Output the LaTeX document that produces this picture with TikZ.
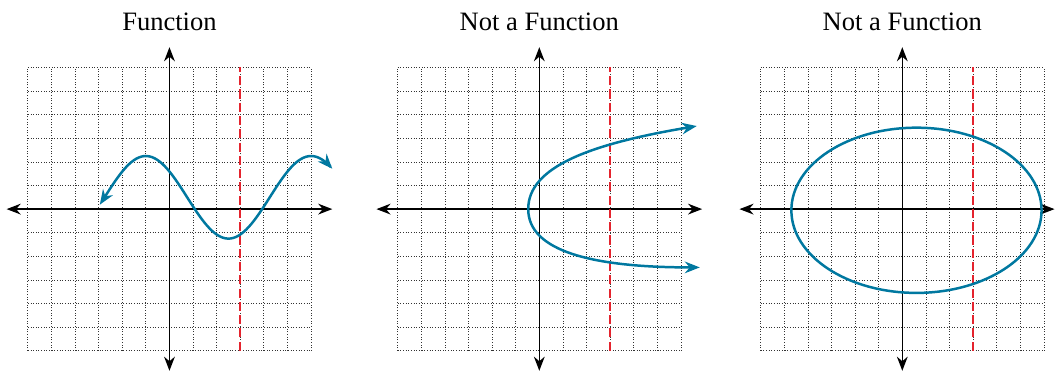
\documentclass[tikz,border=0pt]{standalone}
\usepackage{fontspec}
\setmainfont{Liberation Serif}
\usetikzlibrary{arrows.meta}
\definecolor{curveblue}{RGB}{0,120,160}
\definecolor{testred}{RGB}{228,35,45}
\tikzset{
    gridline/.style={
        black!80,
        line width=0.45pt,
        step=0.5cm,
        dash pattern=on 0.5pt off 1.1pt
    },
    axis/.style={
        line width=0.9pt,
        {Stealth[length=8.5pt,width=6.5pt]}-{Stealth[length=8.5pt,width=6.5pt]}
    },
    curve/.style={
        curveblue,
        line width=1.5pt
    },
    curvetips/.style={
        {Stealth[length=9pt,width=7pt]}-{Stealth[length=9pt,width=7pt]}
    },
    testline/.style={
        testred,
        line width=1.4pt,
        dash pattern=on 5.5pt off 2.5pt
    },
    title/.style={
        anchor=base,
        font=\fontsize{16}{19}\selectfont
    }
}

\begin{document}
\begin{tikzpicture}[x=0.5cm, y=0.5cm]
    \useasboundingbox (-7.18,-6.85) rectangle (37.52,8.86);

    % grid, axes and vertical line for each panel
    \foreach \ox/\ttl/\nm/\xr in {0/Function/fn/6.9, 15.67/Not a Function/pa/6.9, 31.05/Not a Function/el/6.45} {
        \begin{scope}[xshift=\ox*0.5cm]
            \draw[gridline] (-6,-6) grid (6,6);
            \draw[axis] (-6.9,0) -- (\xr,0);
            \draw[axis] (0,-6.85) -- (0,6.86);
            \draw[testline] (3,-6) -- (3,6);
            \node[title] (title-\nm) at (0,7.58) {\ttl};
        \end{scope}
    }

    % sine wave
    \draw[curve, curvetips] plot[domain=-2.95:6.9, samples=90, smooth]
        (\x, {0.5+1.75*cos(deg(2*pi*(\x+1)/7))});

    % sideways parabola
    \begin{scope}[xshift=15.67*0.5cm]
        \draw[curve, curvetips] (6.67,3.52) .. controls (2.17,2.76) and (-0.47,1.8) .. (-0.47,0)
            .. controls (-0.47,-1.8) and (2.3,-2.47) .. (6.8,-2.47);
    \end{scope}

    % ellipse
    \begin{scope}[xshift=31.05*0.5cm]
        \draw[curve] (0.6,-0.05) ellipse [x radius=5.3, y radius=3.5];
    \end{scope}
\end{tikzpicture}
\end{document}
